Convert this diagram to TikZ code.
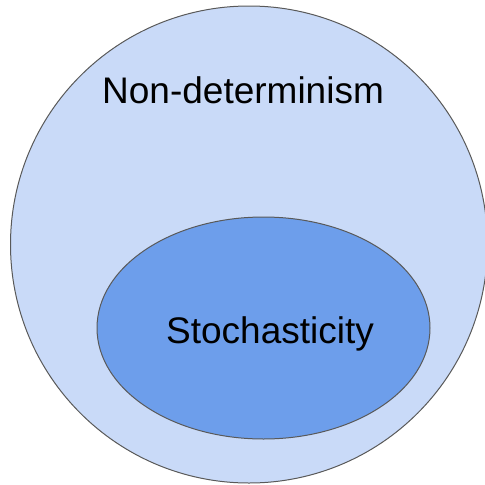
\documentclass[tikz,border=0pt]{standalone}
\usepackage{fontspec}
\setmainfont{Liberation Sans}
\usepackage{xcolor}
\definecolor{outerblue}{HTML}{C9DAF8}
\definecolor{innerblue}{HTML}{6D9EEB}
\definecolor{edgegray}{HTML}{595959}

\begin{document}
\begin{tikzpicture}[x=1pt,y=-1pt,
  font=\fontsize{37}{40}\selectfont,
  set/.style={draw=edgegray,line width=1pt},
  lab/.style={anchor=base west,inner sep=0pt}]
\useasboundingbox (0,0) rectangle (485,485);
\coordinate (nondet) at (249,244.5);
\coordinate (stoch) at (263.5,328);
% outer set
\draw[set,fill=outerblue] (nondet) ellipse [x radius=238.5, y radius=238.5];
% inner set
\draw[set,fill=innerblue] (stoch) ellipse [x radius=166.5, y radius=111];
\node[lab] (nondetlab) at (102,103) {Non-determinism};
\node[lab] (stochlab) at (166,343) {Stochasticity};
\end{tikzpicture}
\end{document}
